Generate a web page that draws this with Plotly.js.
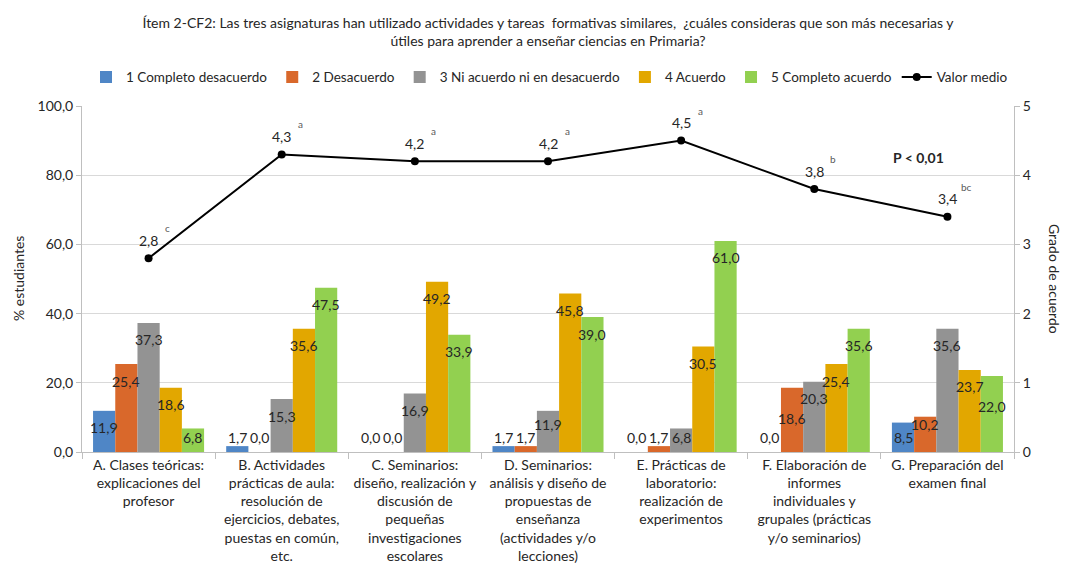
<!DOCTYPE html>
<html><head><meta charset="utf-8">
<script src="https://cdn.plot.ly/plotly-3.0.1.min.js"></script>
<style>html,body{margin:0;padding:0;background:#fff}#chart{width:1067px;height:580px}</style>
</head><body><div id="chart"></div>
<script>
const categories = [
  "A. Clases teóricas:<br>explicaciones del<br>profesor",
  "B. Actividades<br>prácticas de aula:<br>resolución de<br>ejercicios, debates,<br>puestas en común,<br>etc.",
  "C. Seminarios:<br>diseño, realización y<br>discusión de<br>pequeñas<br>investigaciones<br>escolares",
  "D. Seminarios:<br>análisis y diseño de<br>propuestas de<br>enseñanza<br>(actividades y/o<br>lecciones)",
  "E. Prácticas de<br>laboratorio:<br>realización de<br>experimentos",
  "F. Elaboración de<br>informes<br>individuales y<br>grupales (prácticas<br>y/o seminarios)",
  "G. Preparación del<br>examen final"
];
const seriesNames = ["1 Completo desacuerdo","2 Desacuerdo","3 Ni acuerdo ni en desacuerdo","4 Acuerdo","5 Completo acuerdo"];
const s1 = [11.9, 1.7, 0.0, 1.7, 0.0, 0.0, 8.5];
const s2 = [25.4, 0.0, 0.0, 1.7, 1.7, 18.6, 10.2];
const s3 = [37.3, 15.3, 16.9, 11.9, 6.8, 20.3, 35.6];
const s4 = [18.6, 35.6, 49.2, 45.8, 30.5, 25.4, 23.7];
const s5 = [6.8, 47.5, 33.9, 39.0, 61.0, 35.6, 22.0];
const meanValues = [2.8, 4.3, 4.2, 4.2, 4.5, 3.8, 3.4];
const meanLetters = ["c", "a", "a", "a", "a", "b", "bc"];
const colors = ["#4F86C6", "#D9682B", "#939393", "#E2A700", "#92D050"];

const FONT = "Lato, 'Open Sans', sans-serif";
const margin = {l: 82, r: 53, t: 106, b: 128};
const W = 1067 - margin.l - margin.r;
const H = 580 - margin.t - margin.b;
const bargap = 0.166;
const barPx = (W / categories.length) * (1 - bargap) / 5;
const fmt = v => v.toFixed(1).replace('.', ',');
const MINC = 15;

const series = [s1, s2, s3, s4, s5];
const traces = series.map((vals, j) => ({
  type: 'bar', name: seriesNames[j], x: categories, y: vals,
  marker: {color: colors[j]}, hoverinfo: 'none'
}));
traces.push({
  type: 'scatter', mode: 'lines+markers', name: 'Valor medio',
  x: categories, y: meanValues, yaxis: 'y2',
  line: {color: '#000', width: 2}, marker: {color: '#000', size: 8}
});

// label centres (px above axis), "inside end" with simple collision avoidance
const labelPos = series.map(vals => vals.map(v => Math.max(v / 100 * H - 17, MINC)));
categories.forEach((_, i) => {
  for (let j = 1; j < 5; j++) {
    const a = labelPos[j - 1][i], b = labelPos[j][i];
    if (a === MINC && b === MINC) continue;
    if (Math.abs(a - b) < 16) {
      const va = series[j - 1][i], vb = series[j][i];
      const shortIdx = va < vb ? j - 1 : j, tallIdx = va < vb ? j : j - 1;
      const other = labelPos[tallIdx][i];
      if (other - 20 >= MINC) labelPos[shortIdx][i] = other - 20;
      else labelPos[tallIdx][i] = labelPos[shortIdx][i] + 13;
    }
  }
});

const annotations = [];
series.forEach((vals, j) => {
  vals.forEach((v, i) => {
    annotations.push({
      xref: 'x', yref: 'y', x: categories[i], y: 0, yshift: labelPos[j][i],
      xshift: (j - 2) * barPx, text: fmt(v), showarrow: false, xanchor: 'center',
      font: {family: FONT, size: 14, color: '#262626'}, yanchor: 'middle'
    });
  });
});
meanValues.forEach((m, i) => {
  annotations.push({xref: 'x', yref: 'y2', x: categories[i], y: m, yshift: 18, xanchor: 'center',
    text: fmt(m), showarrow: false, font: {family: FONT, size: 14, color: '#262626'}});
  annotations.push({xref: 'x', yref: 'y2', x: categories[i], y: m, yshift: 30, xshift: 19, xanchor: 'center',
    text: meanLetters[i], showarrow: false, font: {family: FONT, size: 10, color: '#595959'}});
});
annotations.push({xref: 'paper', yref: 'y2', x: (918 - margin.l) / W, y: 4.25, xanchor: 'center',
  text: '<b>P < 0,01</b>', showarrow: false, font: {family: FONT, size: 14, color: '#262626'}});
annotations.push({xref: 'paper', yref: 'paper', x: (18 - margin.l) / W, y: 0.5, xanchor: 'center', yanchor: 'middle',
  text: '% estudiantes', textangle: -90, showarrow: false, font: {family: FONT, size: 14, color: '#262626'}});
annotations.push({xref: 'paper', yref: 'paper', x: (1055 - margin.l) / W, y: 0.5, xanchor: 'center', yanchor: 'middle',
  text: 'Grado de acuerdo', textangle: 90, showarrow: false, font: {family: FONT, size: 14, color: '#262626'}});

const layout = {
  width: 1067, height: 580, margin: margin,
  paper_bgcolor: '#fff', plot_bgcolor: '#fff',
  separators: ',.',
  font: {family: FONT, size: 14, color: '#262626'},
  title: {text: 'Ítem 2-CF2: Las tres asignaturas han utilizado actividades y tareas  formativas similares,  ¿cuáles consideras que son más necesarias y<br>útiles para aprender a enseñar ciencias en Primaria?',
    font: {family: FONT, size: 14, color: '#262626'}, x: 0.5, xref: 'paper', y: 0.952, yanchor: 'middle'},
  barmode: 'group', bargap: bargap, bargroupgap: 0,
  showlegend: true,
  legend: {orientation: 'h', xref: 'container', yref: 'container', x: 0.515, xanchor: 'center', y: 0.867, yanchor: 'middle',
    font: {family: FONT, size: 13.5, color: '#262626'}, traceorder: 'normal', itemwidth: 30},
  xaxis: {type: 'category', showline: true, linecolor: '#BFBFBF', ticks: 'outside', tickson: 'boundaries',
    ticklen: 6, tickcolor: '#BFBFBF', tickfont: {family: FONT, size: 14, color: '#262626'}, showgrid: false},
  yaxis: {range: [0, 100], dtick: 20, tickformat: '.1f', showline: true, linecolor: '#BFBFBF',
    gridcolor: '#D9D9D9', ticks: 'outside', ticklen: 5, tickcolor: '#BFBFBF', zeroline: false,
    tickfont: {family: FONT, size: 14, color: '#262626'}},
  yaxis2: {range: [0, 5], dtick: 1, overlaying: 'y', side: 'right', showline: true, linecolor: '#BFBFBF',
    showgrid: false, ticks: 'outside', ticklen: 5, tickcolor: '#BFBFBF', zeroline: false,
    tickfont: {family: FONT, size: 14, color: '#262626'}},
  annotations: annotations
};
Plotly.newPlot('chart', traces, layout, {displayModeBar: false, staticPlot: true});
</script></body></html>
